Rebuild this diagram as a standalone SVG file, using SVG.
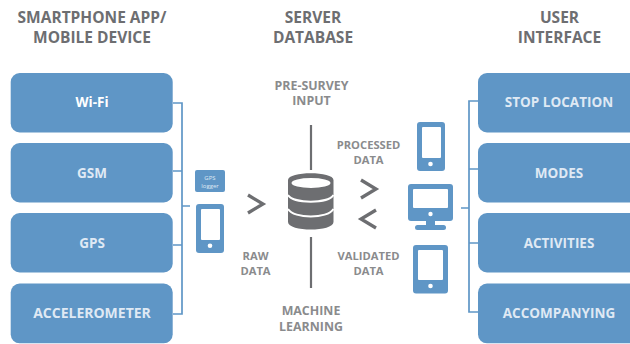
<svg xmlns="http://www.w3.org/2000/svg" width="630" height="344" viewBox="0 0 630 344">
<style>
text{font-family:"Open Sans","Noto Sans",sans-serif;font-weight:700;text-anchor:middle}
.h{font-size:15.5px;fill:#6d6e71}
.l{font-size:11.2px;fill:#8a8b8d}
.m{font-size:12.400px;fill:#8a8b8d}
.b{fill:#5f96c6}
.n{font-size:13.5px;fill:#dfe9f4}
.c{fill:none;stroke:#5f96c6;stroke-width:1.7}
.g{fill:none;stroke:#6d6e71;stroke-width:3.300}
.v{fill:none;stroke:#6d6e71;stroke-width:2.2}
.w{fill:#fff}
.s{font-size:6px;font-weight:400;fill:#dfe9f4}
</style>
<rect width="630" height="344" fill="#fff"/>
<g id="titles">
<text class="h" x="92" y="22.500">SMARTPHONE APP/</text><text class="h" x="92" y="43">MOBILE DEVICE</text>
<text class="h" x="313" y="22.500">SERVER</text><text class="h" x="313" y="43">DATABASE</text>
<text class="h" x="559.500" y="22.500">USER</text><text class="h" x="559.500" y="43">INTERFACE</text>
</g>
<g id="connectors">
<path class="c" d="M173 103H182V314H173M173 171H182M173 245H182M182 206H190"/>
<path class="c" d="M478 101H469V312H478M478 169H469M478 243H469M469 208H461"/>
<path class="v" d="M311 125V170M311 237V288"/>
<path class="g" d="M248 195L263 204L248 213"/>
<path class="g" d="M361 180L376 189L361 198"/>
<path class="g" d="M376 210L361 219L376 228"/>
</g>
<g id="node-wifi"><rect class="b" x="10.700" y="73" width="162" height="59.500" rx="9"/><text class="n" x="92" y="107" style="fill:#fff">Wi-Fi</text></g>
<g id="node-gsm"><rect class="b" x="10.700" y="143" width="162" height="59.500" rx="9"/><text class="n" x="92" y="177.500">GSM</text></g>
<g id="node-gps"><rect class="b" x="10.700" y="213" width="162" height="59.500" rx="9"/><text class="n" x="92" y="247.500">GPS</text></g>
<g id="node-accelerometer"><rect class="b" x="10.700" y="283.500" width="162" height="59.800" rx="9"/><text class="n" x="92" y="318" style="font-size:14px">ACCELEROMETER</text></g>
<g id="node-stop-location"><rect class="b" x="478" y="73" width="160" height="59.500" rx="9"/><text class="n" x="559" y="107">STOP LOCATION</text></g>
<g id="node-modes"><rect class="b" x="478" y="143" width="160" height="59.500" rx="9"/><text class="n" x="559" y="177.500">MODES</text></g>
<g id="node-activities"><rect class="b" x="478" y="213" width="160" height="59.500" rx="9"/><text class="n" x="559" y="247.500">ACTIVITIES</text></g>
<g id="node-accompanying"><rect class="b" x="478" y="283.500" width="160" height="59.800" rx="9"/><text class="n" x="559" y="318">ACCOMPANYING</text></g>
<g id="node-gps-logger"><rect class="b" x="195" y="170" width="30" height="22" rx="2"/><text class="s" x="210" y="180">GPS</text><text class="s" x="210" y="187.500">logger</text></g>
<g id="node-phone-left"><rect class="b" x="196" y="204" width="28" height="49" rx="3"/><rect class="w" x="201" y="209" width="19" height="31" rx="1"/><circle class="w" cx="210" cy="245.700" r="2.300"/></g>
<g id="node-database">
<path d="M288 180C288 171 333.500 171 333.500 180V222C333.500 232 288 232 288 222Z" fill="#6d6e71"/>
<ellipse cx="311" cy="183" rx="19.500" ry="5" fill="#fff"/>
<path d="M288 195C294 204 327.500 204 333.500 195M288 209C294 219 327.500 219 333.500 209" fill="none" stroke="#fff" stroke-width="2"/>
</g>
<g id="node-phone-right"><rect class="b" x="417" y="122" width="28" height="49" rx="3"/><rect class="w" x="422" y="127" width="19" height="31" rx="1"/><circle class="w" cx="430.500" cy="164" r="2.300"/></g>
<g id="node-monitor"><rect class="b" x="408" y="184" width="45" height="37" rx="3"/><rect class="w" x="413" y="189" width="35" height="19" rx="1"/><circle class="w" cx="430.500" cy="214" r="2.200"/><rect class="b" x="426" y="220" width="9" height="6"/><rect class="b" x="415" y="225" width="31" height="5" rx="2.500"/></g>
<g id="node-tablet"><rect class="b" x="413" y="245" width="35" height="48.500" rx="3"/><rect class="w" x="418" y="250" width="25" height="30" rx="1"/><circle class="w" cx="430.500" cy="286" r="2.300"/></g>
<g id="labels">
<text class="m" x="311.500" y="89.500">PRE-SURVEY</text><text class="m" x="311.500" y="105">INPUT</text>
<text class="l" x="255.500" y="260">RAW</text><text class="l" x="255.500" y="274.500">DATA</text>
<text class="m" x="311" y="315">MACHINE</text><text class="m" x="311" y="330.500">LEARNING</text>
<text class="l" x="368.500" y="149">PROCESSED</text><text class="l" x="368.500" y="164">DATA</text>
<text class="l" x="368.500" y="260">VALIDATED</text><text class="l" x="368.500" y="274.500">DATA</text>
</g>
</svg>
